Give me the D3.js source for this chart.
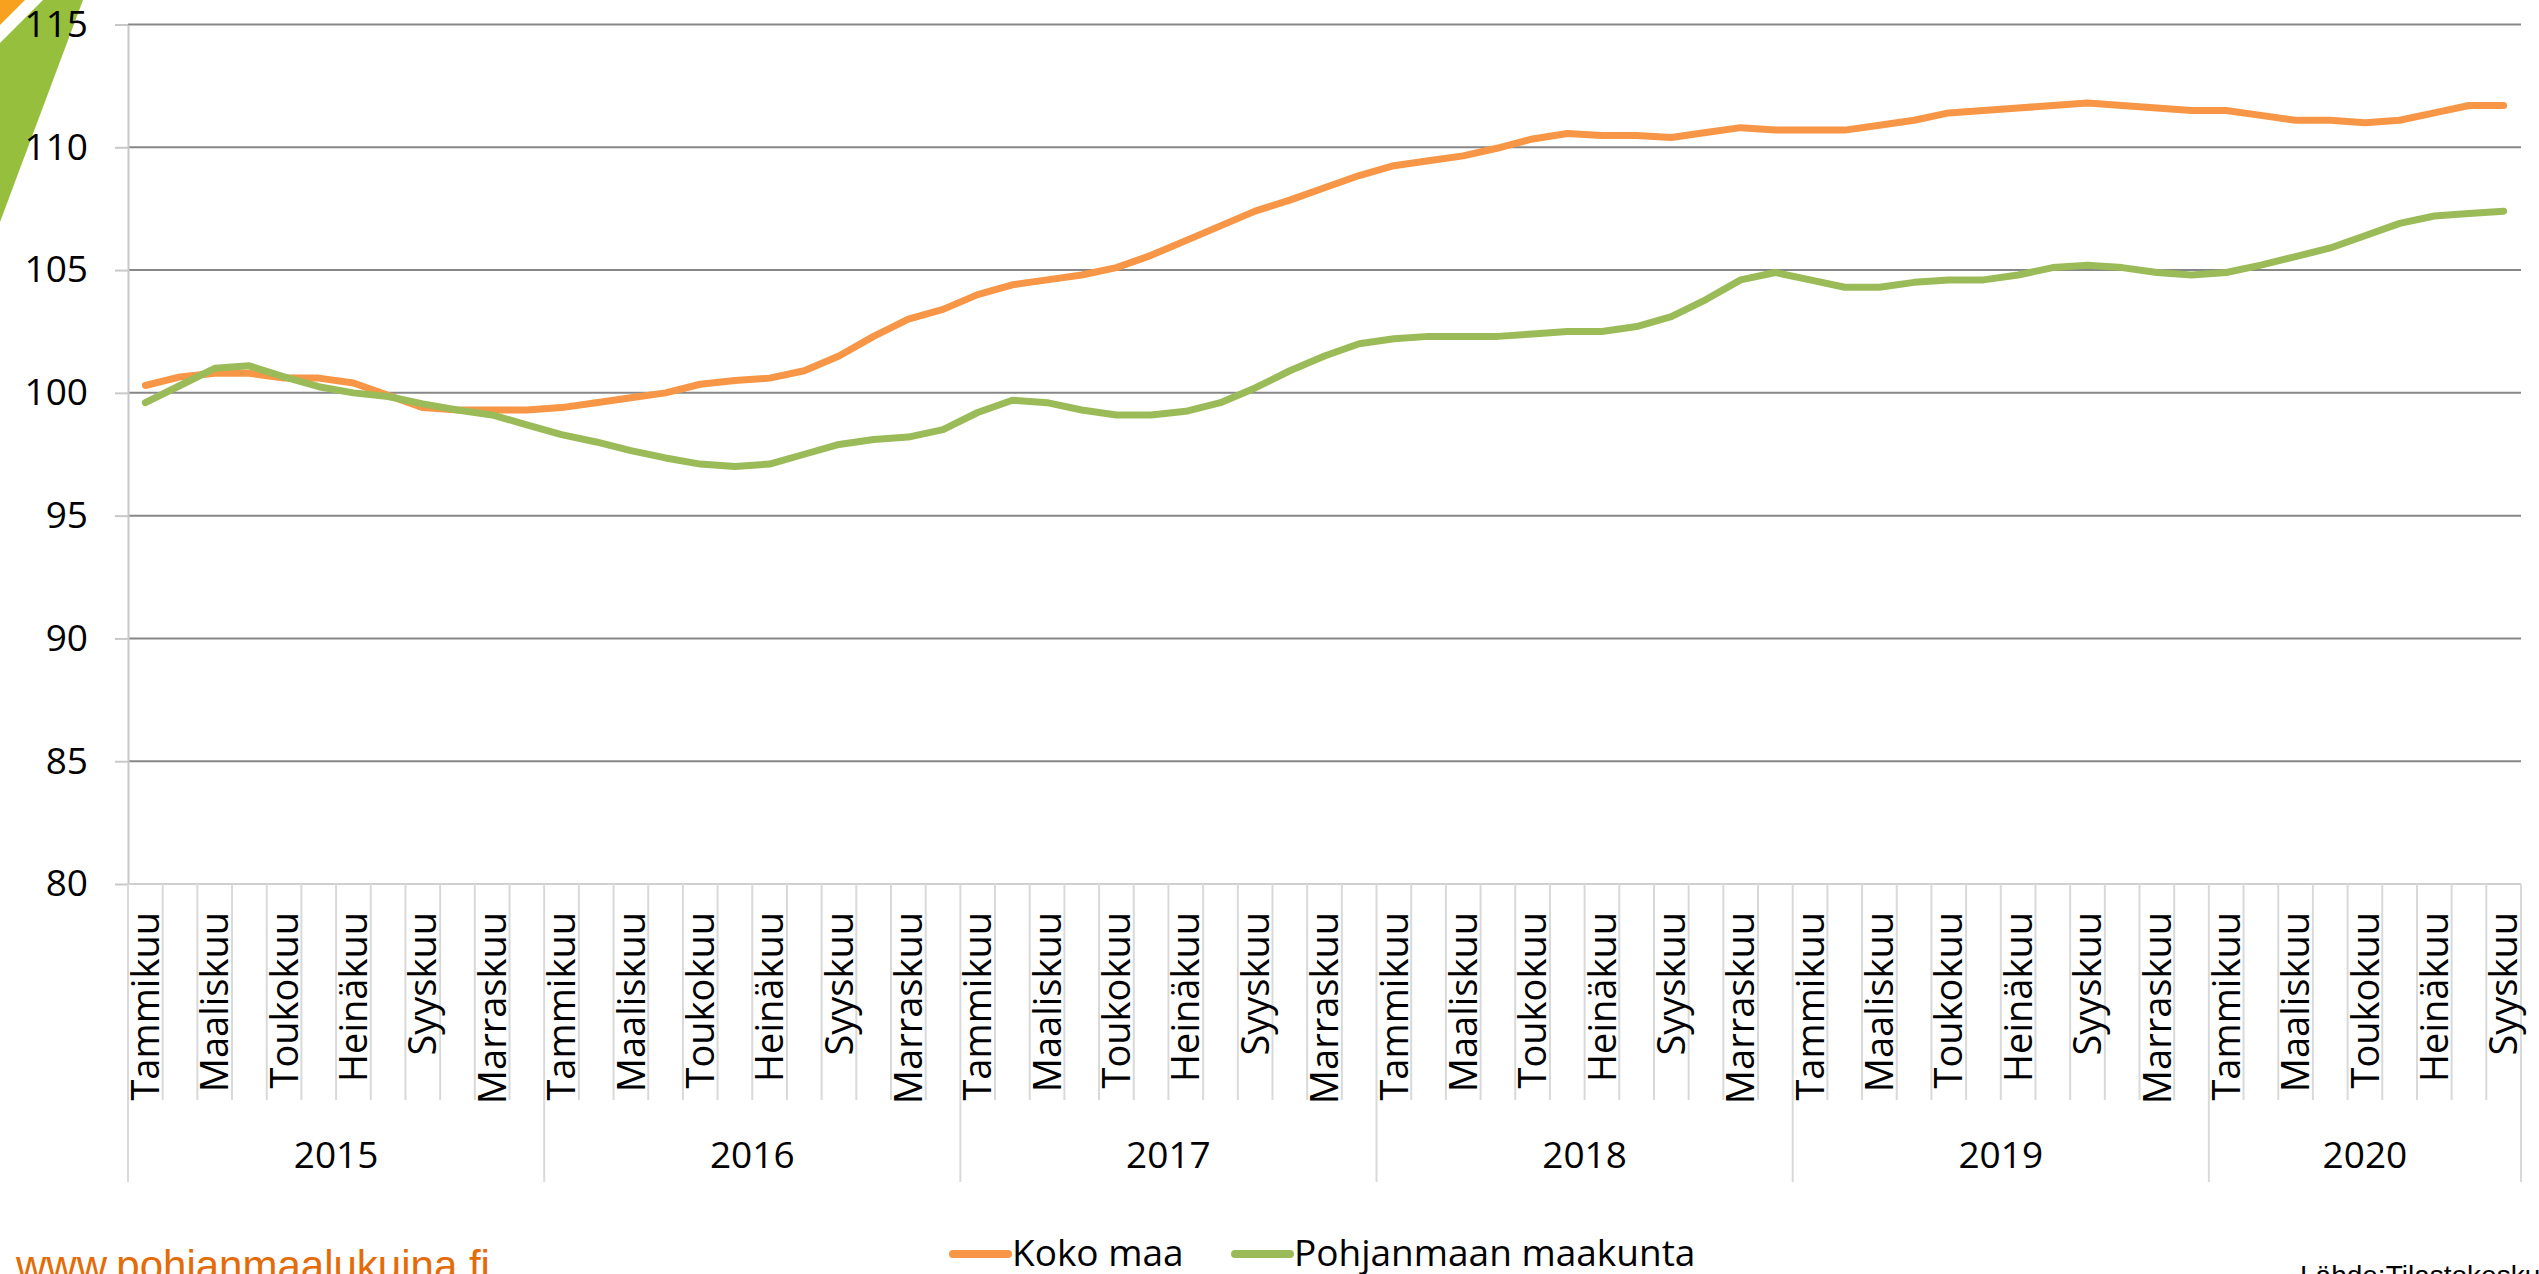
<!DOCTYPE html>
<html>
<head>
<meta charset="utf-8">
<script src="https://d3js.org/d3.v7.min.js"></script>
<style>
	body { margin: 0; background: #fff; }
	svg { display: block; font-family: "Open Sans", sans-serif; }
</style>
</head>
<body>
<script>
// kuukaudet (month names), only every other one gets a label like in excel
var months = ["Tammikuu", "Helmikuu", "Maaliskuu", "Huhtikuu", "Toukokuu", "Kesäkuu",
	"Heinäkuu", "Elokuu", "Syyskuu", "Lokakuu", "Marraskuu", "Joulukuu"];

var years = ["2015", "2016", "2017", "2018", "2019", "2020"];

// months per year in data (2020 ends in syyskuu)
var monthsInYear = [12, 12, 12, 12, 12, 9];

var yTicks = [80, 85, 90, 95, 100, 105, 110, 115];

// Koko maa
var kokoMaa = [
	100.3, 100.65, 100.8, 100.8, 100.6, 100.6, 100.4, 99.9, 99.4, 99.3, 99.3, 99.3,
	99.4, 99.6, 99.8, 100.0, 100.35, 100.5, 100.6, 100.9, 101.5, 102.3, 103.0, 103.4,
	104.0, 104.4, 104.6, 104.8, 105.1, 105.6, 106.2, 106.8, 107.4, 107.85, 108.35, 108.85,
	109.25, 109.45, 109.65, 109.97, 110.34, 110.56, 110.48, 110.48, 110.4, 110.6, 110.8, 110.7,
	110.7, 110.7, 110.9, 111.1, 111.4, 111.5, 111.6, 111.7, 111.8, 111.7, 111.6, 111.5,
	111.5, 111.3, 111.1, 111.1, 111.0, 111.1, 111.4, 111.7, 111.7
];

// Pohjanmaan maakunta
var pohjanmaa = [
	99.6, 100.3, 101.0, 101.1, 100.65, 100.25, 100.0, 99.85, 99.55, 99.3, 99.1, 98.7,
	98.3, 98.0, 97.65, 97.35, 97.1, 97.0, 97.1, 97.5, 97.9, 98.1, 98.2, 98.5,
	99.2, 99.7, 99.6, 99.3, 99.1, 99.1, 99.25, 99.6, 100.2, 100.9, 101.5, 102.0,
	102.2, 102.3, 102.3, 102.3, 102.4, 102.5, 102.5, 102.7, 103.1, 103.8, 104.6, 104.9,
	104.6, 104.3, 104.3, 104.5, 104.6, 104.6, 104.8, 105.1, 105.2, 105.1, 104.9, 104.8,
	104.9, 105.2, 105.55, 105.9, 106.4, 106.9, 107.2, 107.3, 107.4
];

var seriesNames = ["Koko maa", "Pohjanmaan maakunta"];
var seriesColors = ["#F79646", "#9BBB59"];

window.onload = setChart;

function setChart(){
	var width = 2539,
		height = 1274;

	// plot area
	var left = 128, right = 2521, top = 24.5, bottom = 884;

	var svg = d3.select("body")
		.append("svg")
		.attr("width", width)
		.attr("height", height);

	//build category keys (year + month index)
	var cats = [];
	years.forEach(function(y, yi){
		for (var m = 0; m < monthsInYear[yi]; m++){
			cats.push({ key: y + "-" + m, year: y, month: m });
		}
	});

	var x = d3.scaleBand()
		.domain(cats.map(function(d){ return d.key; }))
		.range([left, right])
		.padding(0);

	var y = d3.scaleLinear()
		.domain([80, 115])
		.range([bottom, top]);

	// logo corner bits, top left
	svg.append("path")
		.attr("d", "M0,0 L25,0 L0,25 Z")
		.attr("fill", "#F7A11E");
	svg.append("path")
		.attr("d", "M43,0 L83,0 L0,222 L0,43 Z")
		.attr("fill", "#96BF3D");

	//gridlines
	svg.selectAll(".grid")
		.data(yTicks.filter(function(t){ return t > 80; }))
		.enter()
		.append("line")
		.attr("class", "grid")
		.attr("x1", left)
		.attr("x2", right)
		.attr("y1", function(d){ return y(d); })
		.attr("y2", function(d){ return y(d); })
		.attr("stroke", "#878787")
		.attr("stroke-width", 2);

	// y axis
	var yAxis = svg.append("g")
		.attr("transform", "translate(" + left + ",0)")
		.call(d3.axisLeft(y).tickValues(yTicks).tickSize(13).tickPadding(27).tickSizeOuter(0));
	yAxis.select(".domain").attr("stroke", "#C8C8C8").attr("stroke-width", 2);
	yAxis.selectAll(".tick line").attr("stroke", "#C8C8C8").attr("stroke-width", 2);
	yAxis.selectAll(".tick text")
		.attr("font-family", "Open Sans")
		.attr("font-size", 37)
		.attr("fill", "#000");

	// bottom axis line
	svg.append("line")
		.attr("x1", left).attr("x2", right)
		.attr("y1", bottom).attr("y2", bottom)
		.attr("stroke", "#D0D0D0")
		.attr("stroke-width", 2);

	// month separators
	svg.selectAll(".msep")
		.data(cats)
		.enter()
		.append("line")
		.attr("class", "msep")
		.attr("x1", function(d){ return x(d.key); })
		.attr("x2", function(d){ return x(d.key); })
		.attr("y1", bottom)
		.attr("y2", function(d){ return d.month === 0 ? 1182 : 1100; })
		.attr("stroke", "#D9D9D9")
		.attr("stroke-width", 2);
	svg.append("line")
		.attr("x1", right).attr("x2", right)
		.attr("y1", bottom).attr("y2", 1182)
		.attr("stroke", "#D9D9D9")
		.attr("stroke-width", 2);

	// month labels (every other)
	svg.selectAll(".mlabel")
		.data(cats.filter(function(d){ return d.month % 2 === 0; }))
		.enter()
		.append("text")
		.attr("class", "mlabel")
		.attr("transform", function(d){
			return "translate(" + (x(d.key) + x.bandwidth() / 2) + ",912) rotate(-90)";
		})
		.attr("dy", "0.36em")
		.attr("text-anchor", "end")
		.attr("font-size", 38)
		.text(function(d){ return months[d.month]; });

	// year labels
	svg.selectAll(".ylabel")
		.data(years)
		.enter()
		.append("text")
		.attr("class", "ylabel")
		.attr("x", function(d, i){
			var first = x(d + "-0"),
				last = x(d + "-" + (monthsInYear[i] - 1)) + x.bandwidth();
			return (first + last) / 2;
		})
		.attr("y", 1168)
		.attr("text-anchor", "middle")
		.attr("font-size", 37)
		.text(function(d){ return d; });

	//lines
	var line = d3.line()
		.x(function(d, i){ return x(cats[i].key) + x.bandwidth() / 2; })
		.y(function(d){ return y(d); });

	svg.selectAll(".series")
		.data([kokoMaa, pohjanmaa])
		.enter()
		.append("path")
		.attr("class", "series")
		.attr("d", line)
		.attr("fill", "none")
		.attr("stroke", function(d, i){ return seriesColors[i]; })
		.attr("stroke-width", 7)
		.attr("stroke-linejoin", "round")
		.attr("stroke-linecap", "round");

	// legend
	var legendX = [953, 1235];
	var legend = svg.selectAll(".legend")
		.data(seriesNames)
		.enter()
		.append("g")
		.attr("class", "legend")
		.attr("transform", function(d, i){ return "translate(" + legendX[i] + ",1254)"; });
	legend.append("line")
		.attr("x1", 0).attr("x2", 55)
		.attr("y1", 0).attr("y2", 0)
		.attr("stroke", function(d, i){ return seriesColors[i]; })
		.attr("stroke-width", 8)
		.attr("stroke-linecap", "round");
	legend.append("text")
		.attr("x", 59)
		.attr("y", 12)
		.attr("font-size", 37)
		.text(function(d){ return d; });

	// footer texts
	svg.append("text")
		.attr("x", 16)
		.attr("y", 1280)
		.attr("font-family", "Liberation Sans")
		.attr("font-size", 42)
		.attr("fill", "#E36C09")
		.text("www.pohjanmaalukuina.fi");

	svg.append("text")
		.attr("x", 2300)
		.attr("y", 1285)
		.attr("font-family", "Liberation Sans")
		.attr("font-size", 28)
		.attr("fill", "#000")
		.text("Lähde:Tilastokeskus");
}
</script>
</body>
</html>
